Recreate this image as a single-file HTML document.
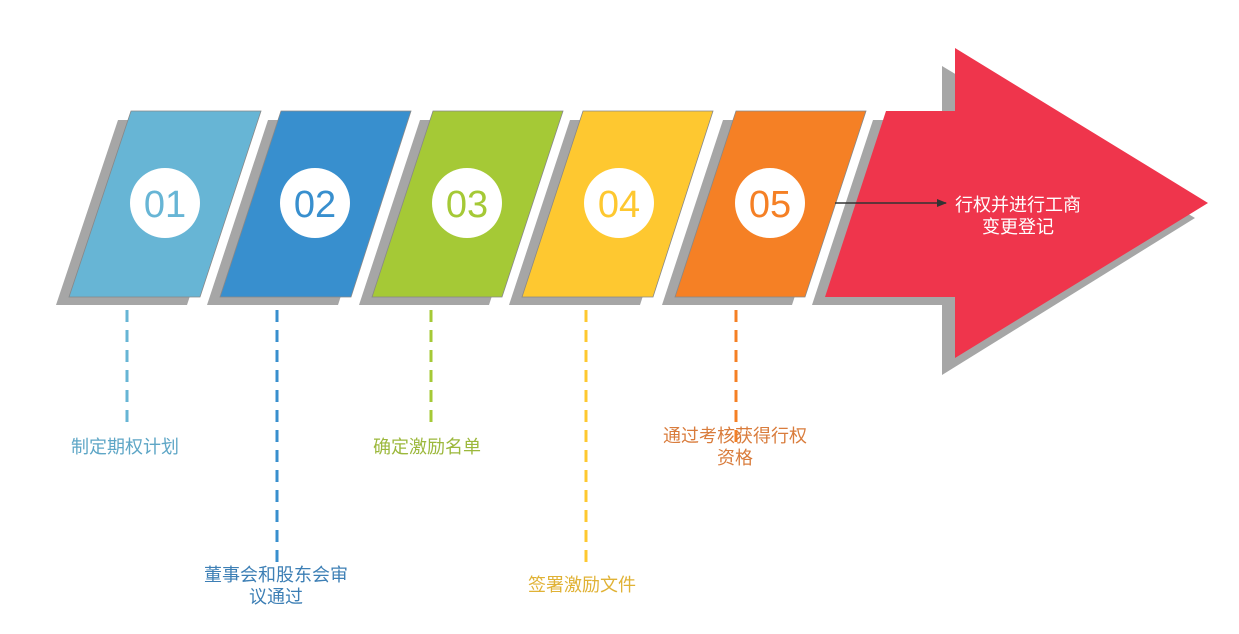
<!DOCTYPE html>
<html><head><meta charset="utf-8"><style>
html,body{margin:0;padding:0;background:#fff;}
svg{display:block;}
text{font-family:"Liberation Sans","Noto Sans CJK SC",sans-serif;}
</style></head><body>
<svg width="1239" height="634" viewBox="0 0 1239 634" xmlns="http://www.w3.org/2000/svg">
<defs>
<marker id="ah" markerWidth="10" markerHeight="8" refX="9" refY="4" orient="auto" markerUnits="userSpaceOnUse"><path d="M0,0 L10,4 L0,8 z" fill="#333"/></marker>
</defs>
<polygon points="873,120 942,120 942,66 1195,218 942,375 942,305 812,305" fill="#a6a6a6"/>
<polygon points="886,111 955,111 955,48 1208,203 955,358 955,297 825,297" fill="#ef354c"/>
<g stroke="#888" stroke-width="0.8">
<polygon points="118,120 248,120 187,305 56,305" fill="#a6a6a6" stroke="none"/>
<polygon points="131,111 261,111 200,297 69,297" fill="#67b5d5"/>
<polygon points="268,120 398,120 338,305 207,305" fill="#a6a6a6" stroke="none"/>
<polygon points="281,111 411,111 351,297 220,297" fill="#388fce"/>
<polygon points="420,120 550,120 489,305 359,305" fill="#a6a6a6" stroke="none"/>
<polygon points="433,111 563,111 502,297 372,297" fill="#a5c936"/>
<polygon points="570,120 700,120 640,305 509,305" fill="#a6a6a6" stroke="none"/>
<polygon points="583,111 713,111 653,297 522,297" fill="#fec830"/>
<polygon points="723,120 853,120 792,305 662,305" fill="#a6a6a6" stroke="none"/>
<polygon points="736,111 866,111 805,297 675,297" fill="#f58025"/>
</g>
<g fill="#fff">
<ellipse cx="165" cy="203" rx="35" ry="35"/>
<ellipse cx="315" cy="203" rx="35" ry="35"/>
<ellipse cx="467" cy="203" rx="35" ry="35"/>
<ellipse cx="619" cy="203" rx="35" ry="35"/>
<ellipse cx="770" cy="203" rx="35" ry="35"/>
</g>
<g font-size="38" text-anchor="middle">
<text x="165" y="217" fill="#67b5d5">01</text>
<text x="315" y="217" fill="#388fce">02</text>
<text x="467" y="217" fill="#a5c936">03</text>
<text x="619" y="217" fill="#fec830">04</text>
<text x="770" y="217" fill="#f58025">05</text>
</g>
<line x1="835" y1="203" x2="946" y2="203" stroke="#333" stroke-width="1.5" marker-end="url(#ah)"/>
<text x="1018" y="211" font-size="18" fill="#fff" text-anchor="middle">行权并进行工商</text>
<text x="1018" y="233" font-size="18" fill="#fff" text-anchor="middle">变更登记</text>
<g stroke-width="3" stroke-dasharray="12 8" fill="none">
<line x1="127" y1="310" x2="127" y2="430" stroke="#67b5d5"/>
<line x1="277" y1="310" x2="277" y2="570" stroke="#388fce"/>
<line x1="431" y1="310" x2="431" y2="430" stroke="#a5c936"/>
<line x1="586" y1="310" x2="586" y2="570" stroke="#fec830"/>
<line x1="736" y1="310" x2="736" y2="442" stroke="#f58025"/>
</g>
<g font-size="18" text-anchor="middle">
<text x="125" y="453" fill="#5ea6c6">制定期权计划</text>
<text x="276" y="581" fill="#3d7fb5">董事会和股东会审</text>
<text x="276" y="603" fill="#3d7fb5">议通过</text>
<text x="427" y="453" fill="#9cb83c">确定激励名单</text>
<text x="582" y="591" fill="#e0b235">签署激励文件</text>
<text x="735" y="442" fill="#d97c3c">通过考核获得行权</text>
<text x="735" y="464" fill="#d97c3c">资格</text>
</g>
</svg>
</body></html>
